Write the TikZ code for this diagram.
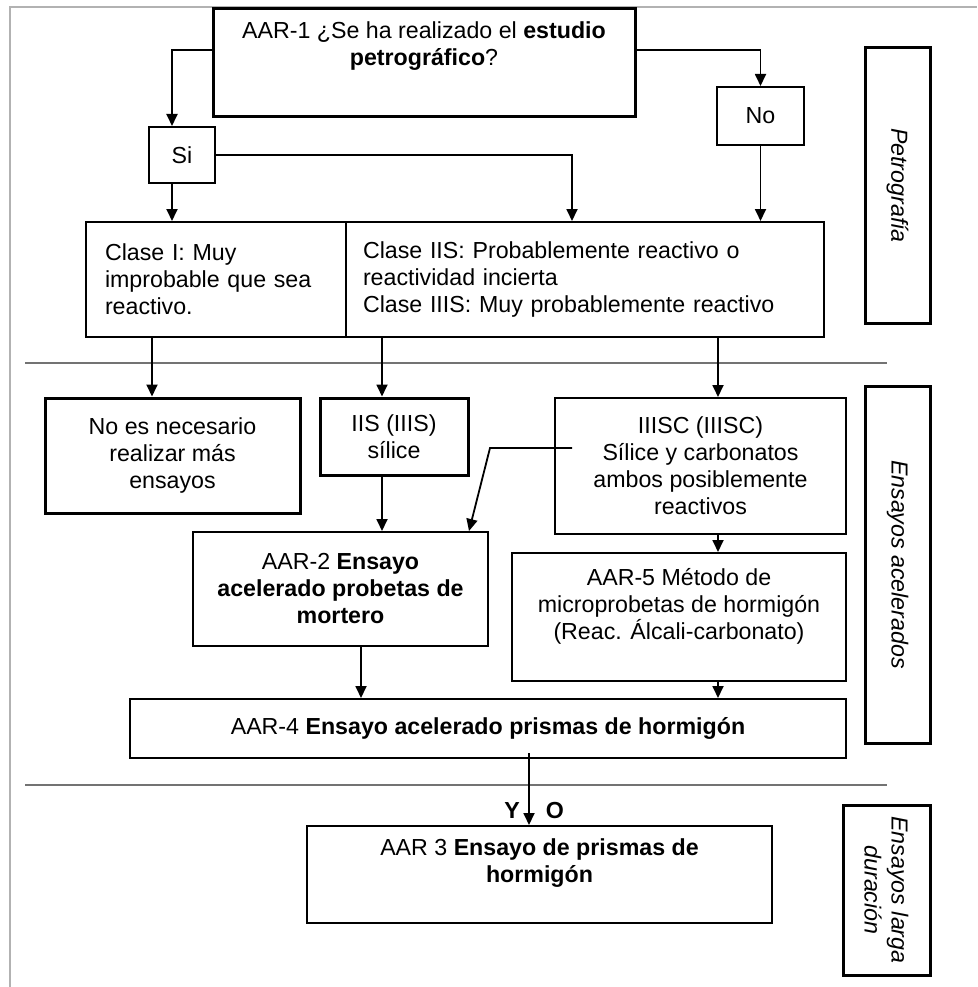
\documentclass[tikz,border=0pt]{standalone}
\usepackage{fontspec}
\setmainfont{Liberation Sans}
\usetikzlibrary{arrows.meta}
\newcommand{\dfont}{\fontsize{23.2}{27}\selectfont}
\begin{document}
\begin{tikzpicture}[x=1pt,y=-1pt,
  every node/.style={font=\dfont},
  box/.style={draw, line width=2pt, inner sep=0pt, align=center},
  heavy/.style={box, line width=3pt},
  side/.style={draw, line width=3pt, inner sep=0pt},
  arr/.style={line width=1.8pt, -{Triangle[length=12pt,width=11pt]}},
  sepline/.style={line width=1.6pt, draw=black!55},
  frame/.style={line width=2pt, draw=black!30}]
\useasboundingbox (0,0) rectangle (977,987);
\draw[frame] (10,987) -- (10,7) -- (977,7);
% separators
\coordinate (s1a) at (25,363); \coordinate (s1b) at (887,363);
\coordinate (s2a) at (25,785); \coordinate (s2b) at (887,785);
\draw[sepline] (s1a) -- (s1b);
\draw[sepline] (s2a) -- (s2b);
% boxes
\node[heavy, minimum width=422, minimum height=108] (aar1) at (424,63)
  {AAR-1 ¿Se ha realizado el \textbf{estudio}\\ \textbf{petrográfico}?\\[12pt] \mbox{}};
\node[box, minimum width=66, minimum height=56] (si) at (182,155) {Si};
\node[box, minimum width=87, minimum height=58] (no) at (760.5,116) {No};
\node[box, minimum width=260, minimum height=115, text width=222, align=left] (c1) at (216,279.5)
  {Clase I: Muy\\ improbable que sea\\ reactivo.};
\node[box, minimum width=478, minimum height=115, text width=444, align=left] (c2) at (585,279.5)
  {Clase IIS: Probablemente reactivo o\\ reactividad incierta\\ Clase IIIS: Muy probablemente reactivo};
\node[heavy, minimum width=255, minimum height=115] (noes) at (172.5,455.5)
  {No es necesario\\ realizar más\\ ensayos};
\node[heavy, minimum width=148, minimum height=77] (iis) at (394,436.5)
  {IIS (IIIS)\\ sílice};
\node[box, minimum width=291, minimum height=136] (iiisc) at (700.5,466)
  {IIISC (IIISC)\\ Sílice y carbonatos\\ ambos posiblemente\\ reactivos};
\node[box, minimum width=295, minimum height=114] (aar2) at (340.5,589)
  {AAR-2 \textbf{Ensayo}\\ \textbf{acelerado probetas de}\\ \textbf{mortero}};
\node[box, minimum width=334, minimum height=128] (aar5) at (679,617)
  {AAR-5 Método de\\ microprobetas de hormigón\\ (Reac. Álcali-carbonato)\\ \mbox{}};
\node[box, minimum width=716, minimum height=59] (aar4) at (488,728.5)
  {AAR-4 \textbf{Ensayo acelerado prismas de hormigón}};
\node[box, minimum width=465, minimum height=97] (aar3) at (539.5,874.5)
  {AAR 3 \textbf{Ensayo de prismas de}\\ \textbf{hormigón}\\ \mbox{}};
% side labels
\node[side, minimum width=65, minimum height=275] (lab1) at (897.5,185.5) {};
\node[rotate=-90, font=\dfont\itshape] (lab1t) at (lab1.center) {Petrografía};
\node[side, minimum width=65, minimum height=357] (lab2) at (897.5,564.5) {};
\node[rotate=-90, font=\dfont\itshape] (lab2t) at (lab2.center) {Ensayos acelerados};
\node[side, minimum width=87, minimum height=170] (lab3) at (886.5,890) {};
\node[rotate=-90, align=center, font=\dfont\itshape] (lab3t) at (lab3.center) {Ensayos larga\\ duración};
% connectors
\draw[arr] ([yshift=13pt]aar1.west) -| ([xshift=-10pt]si.north);
\draw[arr] ([yshift=13pt]aar1.east) -| (no.north);
\draw[arr] ([xshift=-10pt]si.south) -- ([xshift=-10pt]si.south |- c1.north);
\draw[arr] (si.east) -| ([xshift=-13pt]c2.north);
\draw[arr] (no.south) -- (no.south |- c2.north);
\draw[arr] ([xshift=-64pt]c1.south) -- ([xshift=-64pt]c1.south |- noes.north);
\draw[arr] ([xshift=-12pt]iis.north |- c2.south) -- ([xshift=-12pt]iis.north);
\draw[arr] ([xshift=17.5pt]iiisc.north |- c2.south) -- ([xshift=17.5pt]iiisc.north);
\draw[arr] ([xshift=-12pt]iis.south) -- ([xshift=-12pt]iis.south |- aar2.north);
\coordinate (k1) at (572,448);
\coordinate (k2) at (490,448);
\draw[arr] (k1) -- (k2) -- ([xshift=-20pt]aar2.north east);
\draw[arr] ([xshift=17.5pt]iiisc.south) -- ([xshift=17.5pt]iiisc.south |- aar5.north);
\draw[arr] ([xshift=20.5pt]aar2.south) -- ([xshift=20.5pt]aar2.south |- aar4.north);
\draw[arr] ([xshift=39pt]aar5.south) -- ([xshift=39pt]aar5.south |- aar4.north);
\draw[arr] ([xshift=-10.5pt,yshift=6pt]aar3.north |- aar4.south) -- ([xshift=-10.5pt]aar3.north);
\node[font=\dfont\bfseries] (ylab) at (512,811) {Y};
\node[font=\dfont\bfseries] (olab) at (555,811) {O};
\end{tikzpicture}
\end{document}
